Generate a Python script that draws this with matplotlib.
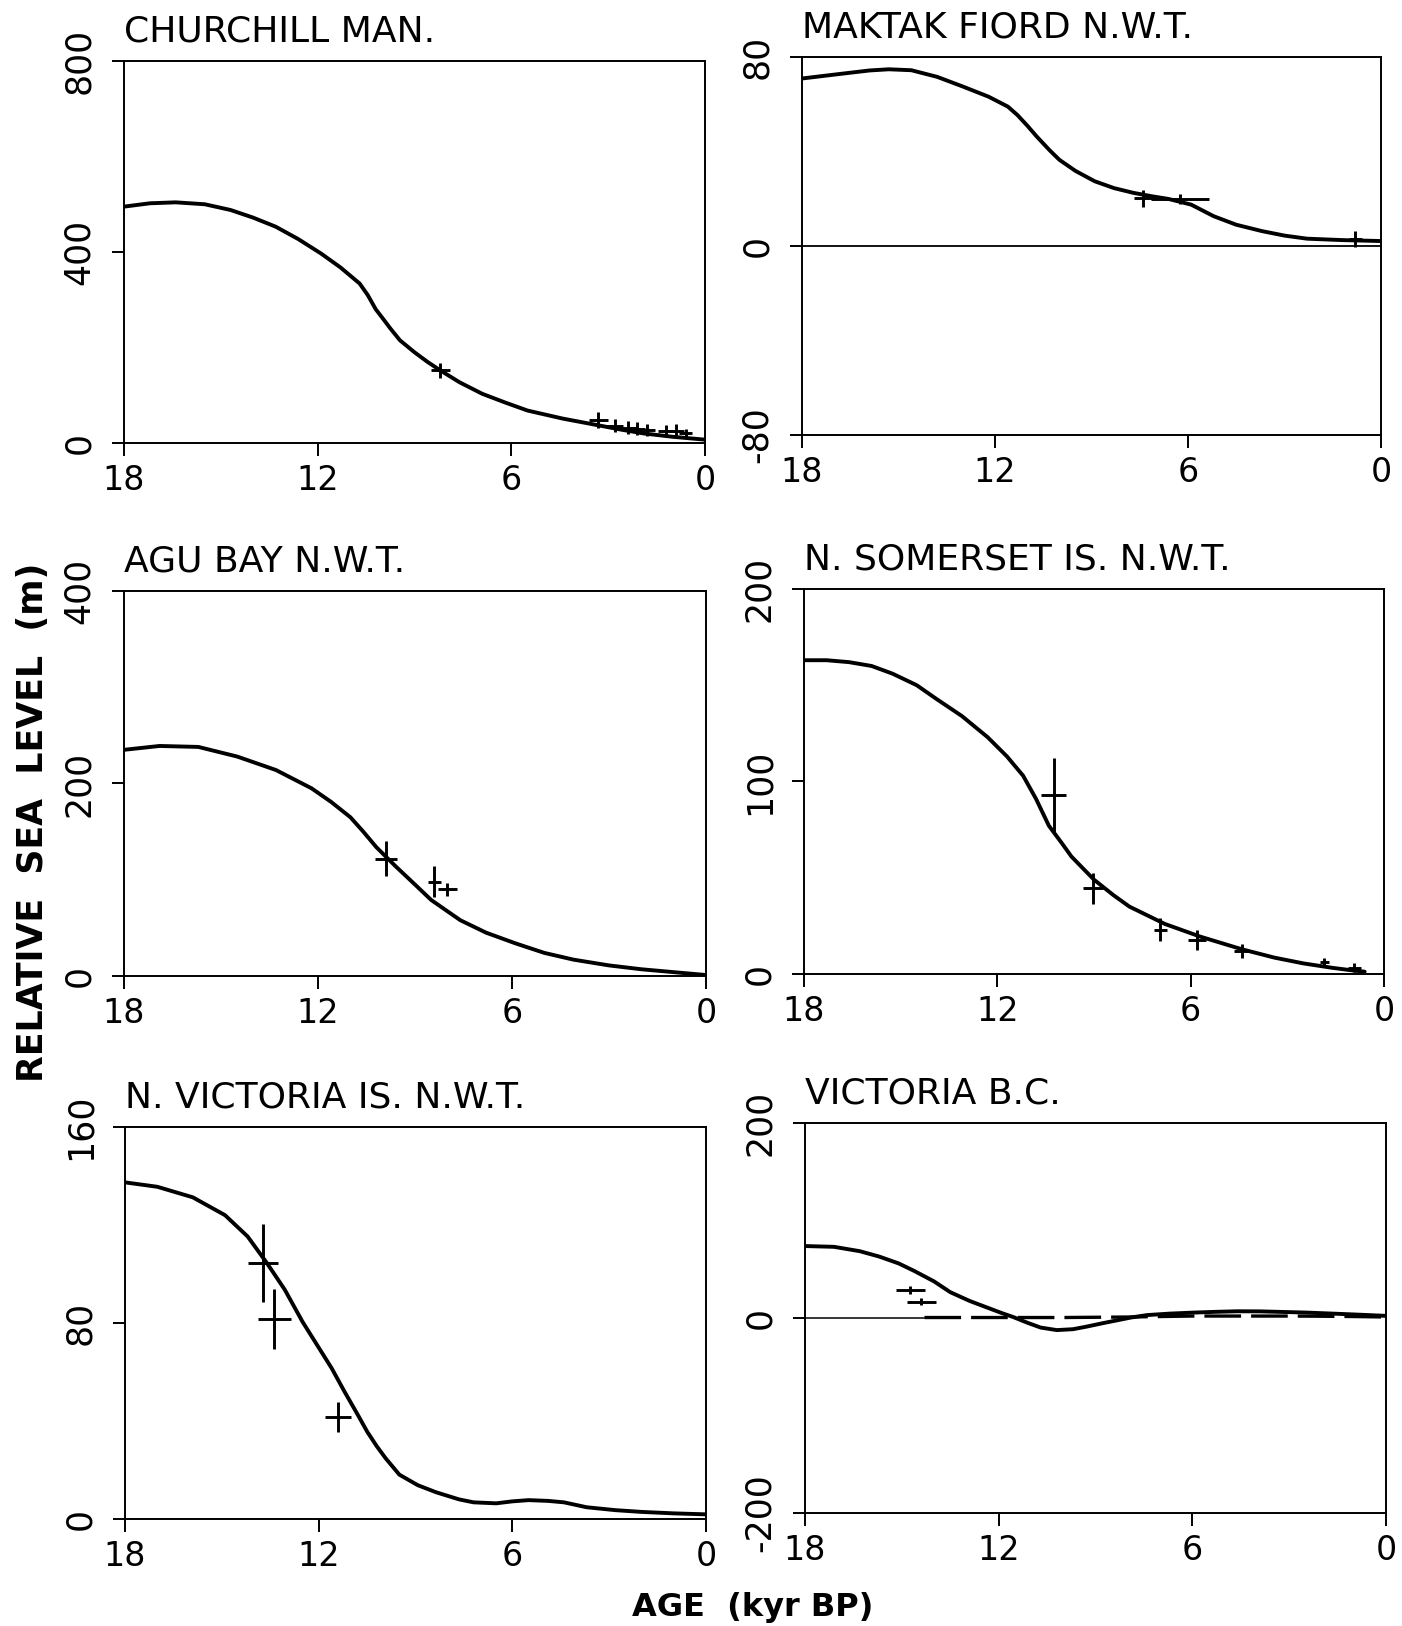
import numpy as np
import matplotlib.pyplot as plt

plt.rcParams['font.family'] = ['DejaVu Sans']

W, H = 1402, 1626

titles = ["CHURCHILL MAN.", "MAKTAK FIORD N.W.T.", "AGU BAY N.W.T.",
          "N. SOMERSET IS. N.W.T.", "N. VICTORIA IS. N.W.T.", "VICTORIA B.C."]
yticks = [[0, 400, 800], [-80, 0, 80], [0, 200, 400],
          [0, 100, 200], [0, 80, 160], [-200, 0, 200]]
xticks = [18, 12, 6, 0]

# predicted relative sea level curves (age in kyr BP, rsl in m)
churchill_age = [18, 17.2, 16.4, 15.5, 14.7, 14.0, 13.3, 12.6, 11.9, 11.3, 10.7, 10.45, 10.2, 9.95, 9.75, 9.45, 9.0, 8.6, 8.2, 7.6, 6.9, 6.2, 5.5, 4.4, 3.3, 2.6, 1.9, 1.0, 0]
churchill_rsl = [495, 502, 504, 500, 488, 472, 453, 427, 397, 368, 334, 310, 280, 258, 240, 215, 190, 170, 152, 127, 103, 85, 68, 51, 37, 28, 20, 13, 7]
churchill_obs_age = [8.2, 3.3, 2.8, 2.4, 2.1, 1.8, 1.2, 0.9, 0.6]
churchill_obs_rsl = [152, 48, 36, 32, 30, 27, 25, 26, 20]
churchill_obs_xerr = [0.3, 0.3, 0.25, 0.25, 0.25, 0.25, 0.25, 0.25, 0.2]
churchill_obs_yerr = [15, 16, 14, 14, 14, 12, 12, 14, 10]

maktak_age = [18, 16.9, 15.9, 15.3, 14.6, 13.8, 13.0, 12.2, 11.6, 11.3, 11.0, 10.7, 10.3, 10.0, 9.5, 8.9, 8.3, 7.7, 7.1, 6.6, 5.9, 5.2, 4.5, 3.7, 3.0, 2.3, 1.2, 0]
maktak_rsl = [70.9, 72.7, 74.3, 74.8, 74.4, 71.6, 67.5, 63.2, 59.0, 55.4, 51.0, 46.3, 40.5, 36.5, 31.8, 27.4, 24.5, 22.5, 21.0, 19.9, 17.5, 12.6, 9.0, 6.3, 4.4, 3.1, 2.5, 2.1]
maktak_obs_age = [7.4, 6.25, 0.8]
maktak_obs_rsl = [20.2, 19.8, 2.9]
maktak_obs_xerr = [0.27, 0.9, 0.2]
maktak_obs_yerr = [3.6, 2.0, 3.5]

agu_age = [18, 16.9, 15.7, 14.5, 13.3, 12.2, 11.6, 11.0, 10.6, 10.2, 9.6, 9.0, 8.5, 7.6, 6.8, 5.9, 5.0, 4.1, 3.0, 2.0, 1.0, 0]
agu_rsl = [235, 239, 238, 228, 214, 195, 181, 165, 150, 134, 114, 95, 79, 58, 45, 34, 24, 17, 11, 7, 4, 1]
agu_obs_age = [9.9, 8.4, 8.0]
agu_obs_rsl = [122, 98, 90]
agu_obs_xerr = [0.33, 0.2, 0.3]
agu_obs_yerr = [18, 16, 7]

somerset_age = [18, 17.3, 16.6, 15.9, 15.25, 14.5, 13.9, 13.1, 12.3, 11.7, 11.2, 10.8, 10.4, 10.0, 9.7, 9.0, 8.4, 7.9, 6.8, 5.7, 4.4, 3.4, 2.5, 1.6, 0.9, 0.6]
somerset_rsl = [163, 163, 162, 160, 156, 150, 143, 134, 123, 113, 103, 91, 77, 68, 61, 49, 41, 35, 26, 19.4, 12.8, 8.5, 5.5, 3.2, 1.7, 1.2]
somerset_obs_age = [10.25, 9.03, 6.95, 5.8, 4.4, 1.85, 0.92]
somerset_obs_rsl = [93, 44.5, 23, 17.7, 12, 6, 3.3]
somerset_obs_xerr = [0.38, 0.3, 0.2, 0.28, 0.25, 0.15, 0.2]
somerset_obs_yerr = [19, 8, 6, 5, 3.5, 2.5, 2.5]

nvictoria_age = [18, 17.0, 15.9, 14.9, 14.2, 13.6, 13.05, 12.5, 12.0, 11.6, 11.2, 10.8, 10.49, 10.2, 9.92, 9.5, 8.93, 8.36, 7.65, 7.2, 6.5, 6.0, 5.5, 4.9, 4.4, 3.7, 2.8, 2.0, 1.0, 0]
nvictoria_rsl = [137.4, 135.6, 131.3, 124, 115.3, 104.4, 93.6, 80.5, 70, 61.6, 52, 42.8, 35.5, 29.7, 24.7, 18.1, 13.8, 10.9, 8.0, 6.8, 6.4, 7.2, 7.7, 7.4, 6.8, 4.8, 3.6, 2.9, 2.3, 1.9]
nvictoria_obs_age = [13.72, 13.37, 11.4]
nvictoria_obs_rsl = [104.4, 81.5, 41.6]
nvictoria_obs_xerr = [0.46, 0.5, 0.4]
nvictoria_obs_yerr = [16, 12.3, 6]

victoria_age = [18, 17.1, 16.3, 15.7, 15.1, 14.6, 14.0, 13.5, 12.9, 12.3, 11.9, 11.55, 11.1, 10.7, 10.2, 9.7, 9.3, 8.8, 8.35, 7.9, 7.4, 6.7, 6.0, 5.3, 4.6, 3.9, 3.2, 2.5, 1.8, 0.9, 0]
victoria_rsl = [73.8, 73.0, 68.5, 63, 56, 48, 37.5, 26.5, 17.5, 10.0, 5.0, 1.0, -5.0, -9.8, -12.4, -11.5, -9.0, -5.5, -2.5, 0.5, 3.0, 4.5, 5.5, 6.3, 6.9, 6.8, 6.2, 5.6, 4.7, 3.5, 2.2]
victoria_alt_age = [14.3, 12.0, 10.0, 8.0, 7.0, 6.0, 5.0, 4.0, 3.0, 2.0, 1.0, 0]
victoria_alt_rsl = [0.5, 0.5, 0.5, 1.0, 1.5, 2.0, 2.0, 2.0, 2.0, 1.8, 1.5, 1.0]
victoria_obs_age = [14.74, 14.4]
victoria_obs_rsl = [28.4, 16.7]
victoria_obs_xerr = [0.45, 0.45]
victoria_obs_yerr = [4.0, 3.5]

curves = [(churchill_age, churchill_rsl), (maktak_age, maktak_rsl), (agu_age, agu_rsl),
          (somerset_age, somerset_rsl), (nvictoria_age, nvictoria_rsl), (victoria_age, victoria_rsl)]
obs = [(churchill_obs_age, churchill_obs_rsl, churchill_obs_xerr, churchill_obs_yerr),
       (maktak_obs_age, maktak_obs_rsl, maktak_obs_xerr, maktak_obs_yerr),
       (agu_obs_age, agu_obs_rsl, agu_obs_xerr, agu_obs_yerr),
       (somerset_obs_age, somerset_obs_rsl, somerset_obs_xerr, somerset_obs_yerr),
       (nvictoria_obs_age, nvictoria_obs_rsl, nvictoria_obs_xerr, nvictoria_obs_yerr),
       (victoria_obs_age, victoria_obs_rsl, victoria_obs_xerr, victoria_obs_yerr)]

# axes boxes in pixels: left, right, top, bottom
boxes = [(124, 705, 61, 443), (802, 1381, 57, 435),
         (124, 706, 591, 976), (804, 1384, 589, 974),
         (125, 706, 1127, 1519), (805, 1386, 1123, 1513)]

fig = plt.figure(figsize=(W / 100, H / 100), dpi=100)

for i in range(6):
    l, r, t, b = boxes[i]
    ax = fig.add_axes((l / W, 1 - b / H, (r - l) / W, (b - t) / H))
    ax.set_xlim(18, 0)
    ax.set_ylim(yticks[i][0], yticks[i][-1])

    ax.plot(curves[i][0], curves[i][1], color='k', lw=2.8,
            solid_capstyle='round', solid_joinstyle='round')
    oa, orsl, oxe, oye = obs[i]
    ax.errorbar(oa, orsl, xerr=oxe, yerr=oye, fmt='none', ecolor='k',
                elinewidth=2.1, capsize=0)

    if i == 1:
        ax.axhline(0, color='k', lw=1.3)
    if i == 5:
        ax.plot([18, victoria_alt_age[0]], [0, 0], color='k', lw=1.1)
        ax.plot(victoria_alt_age, victoria_alt_rsl, color='k', lw=2.4,
                dashes=(11, 3))

    ax.set_xticks(xticks)
    ax.set_xticklabels([str(v) for v in xticks], fontsize=24)
    ax.set_yticks(yticks[i])
    ax.set_yticklabels([str(v) for v in yticks[i]], fontsize=25,
                       rotation=90, va='center')
    ax.tick_params(direction='out', length=9, width=1.4, colors='k')
    ax.tick_params(axis='y', pad=11)
    ax.tick_params(axis='x', pad=6)
    for s in ax.spines.values():
        s.set_linewidth(1.4)

    ax.annotate(titles[i], xy=(0, 1), xycoords='axes fraction',
                xytext=(0, 14), textcoords='offset points',
                ha='left', va='baseline', fontsize=26)

fig.text(33 / W, 1 - 822 / H, "RELATIVE  SEA  LEVEL  (m)", rotation=90,
         ha='center', va='center', fontsize=25, fontweight='bold')
fig.text(753 / W, 1 - 1607 / H, "AGE  (kyr BP)", ha='center', va='center',
         fontsize=23, fontweight='bold')

plt.savefig("out.png", dpi=100)
